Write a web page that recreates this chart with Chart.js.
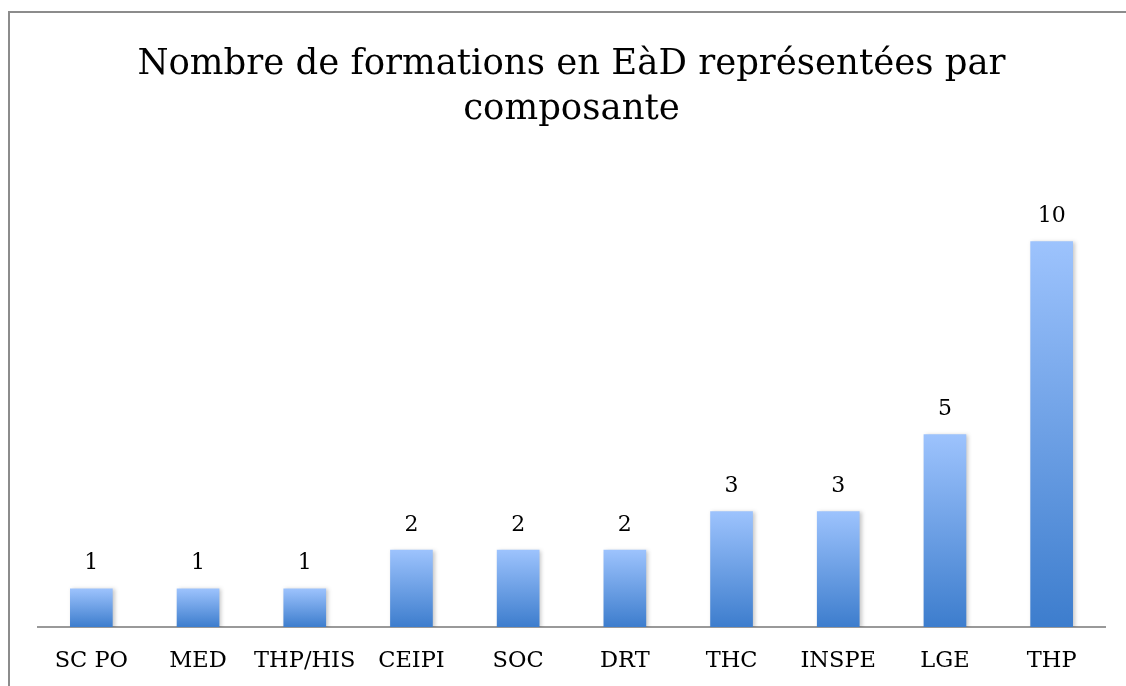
<!DOCTYPE html>
<html>
<head>
<meta charset="utf-8">
<script src="https://cdn.jsdelivr.net/npm/chart.js@4"></script>
<style>
  html, body { margin: 0; padding: 0; background: #fff; overflow: hidden; }
  #frame {
    position: absolute; left: 8px; top: 11px;
    width: 1126px; height: 686px;
    border-left: 2px solid #8c8c8c; border-top: 2px solid #8c8c8c;
  }
</style>
</head>
<body>
<div id="frame"><canvas id="chart" width="1126" height="686"></canvas></div>
<script>
const categories = ['SC PO', 'MED', 'THP/HIS', 'CEIPI', 'SOC', 'DRT', 'THC', 'INSPE', 'LGE', 'THP'];
const counts = [1, 1, 1, 2, 2, 2, 3, 3, 5, 10];
const titleLines = ['Nombre de formations en EàD représentées par', 'composante'];

const serif = "'DejaVu Serif', 'Liberation Serif', serif";

// gradient par barre : clair en haut, foncé en bas
function barGradient(c) {
    const chart = c.chart;
    if (!chart.chartArea || !chart.scales.y) return '#6a9ee8';
    const y = chart.scales.y;
    const top = y.getPixelForValue(c.raw);
    const bottom = y.getPixelForValue(0);
    const g = chart.ctx.createLinearGradient(0, top, 0, bottom);
    g.addColorStop(0, '#9dc3fd');
    g.addColorStop(1, '#3d7dcd');
    return g;
}

// petite ombre à droite des barres
const barShadow = {
    id: 'barShadow',
    beforeDatasetDraw(chart) {
        const ctx = chart.ctx;
        ctx.save();
        ctx.shadowColor = 'rgba(0,0,0,0.22)';
        ctx.shadowBlur = 4;
        ctx.shadowOffsetX = 2;
        ctx.shadowOffsetY = 1;
    },
    afterDatasetDraw(chart) {
        chart.ctx.restore();
    }
};

// valeurs au-dessus des barres
const valueLabels = {
    id: 'valueLabels',
    afterDatasetsDraw(chart) {
        const ctx = chart.ctx;
        const meta = chart.getDatasetMeta(0);
        ctx.save();
        ctx.font = '22px ' + serif;
        ctx.fillStyle = '#000';
        ctx.textAlign = 'center';
        ctx.textBaseline = 'middle';
        meta.data.forEach((bar, i) => {
            ctx.fillText(String(counts[i]), bar.x, bar.y - 25);
        });
        ctx.restore();
    }
};

new Chart(document.getElementById('chart'), {
    type: 'bar',
    data: {
        labels: categories,
        datasets: [{
            data: counts,
            backgroundColor: barGradient,
            borderWidth: 0,
            barPercentage: 0.4,
            categoryPercentage: 1
        }]
    },
    options: {
        responsive: false,
        animation: false,
        layout: { padding: { left: 28, right: 31, top: 0, bottom: 3 } },
        plugins: {
            legend: { display: false },
            tooltip: { enabled: false },
            title: {
                display: true,
                text: titleLines,
                color: '#000',
                font: { family: serif, size: 35.5, weight: 'normal', lineHeight: 1.27 },
                padding: { top: 29, bottom: 32 }
            }
        },
        scales: {
            x: {
                grid: { display: false, drawTicks: false },
                border: { display: true, color: '#999', width: 2 },
                ticks: {
                    color: '#000',
                    font: { family: serif, size: 22.5 },
                    padding: 21,
                    maxRotation: 0,
                    autoSkip: false
                }
            },
            y: {
                display: false,
                min: 0,
                max: 12
            }
        }
    },
    plugins: [barShadow, valueLabels]
});
</script>
</body>
</html>
